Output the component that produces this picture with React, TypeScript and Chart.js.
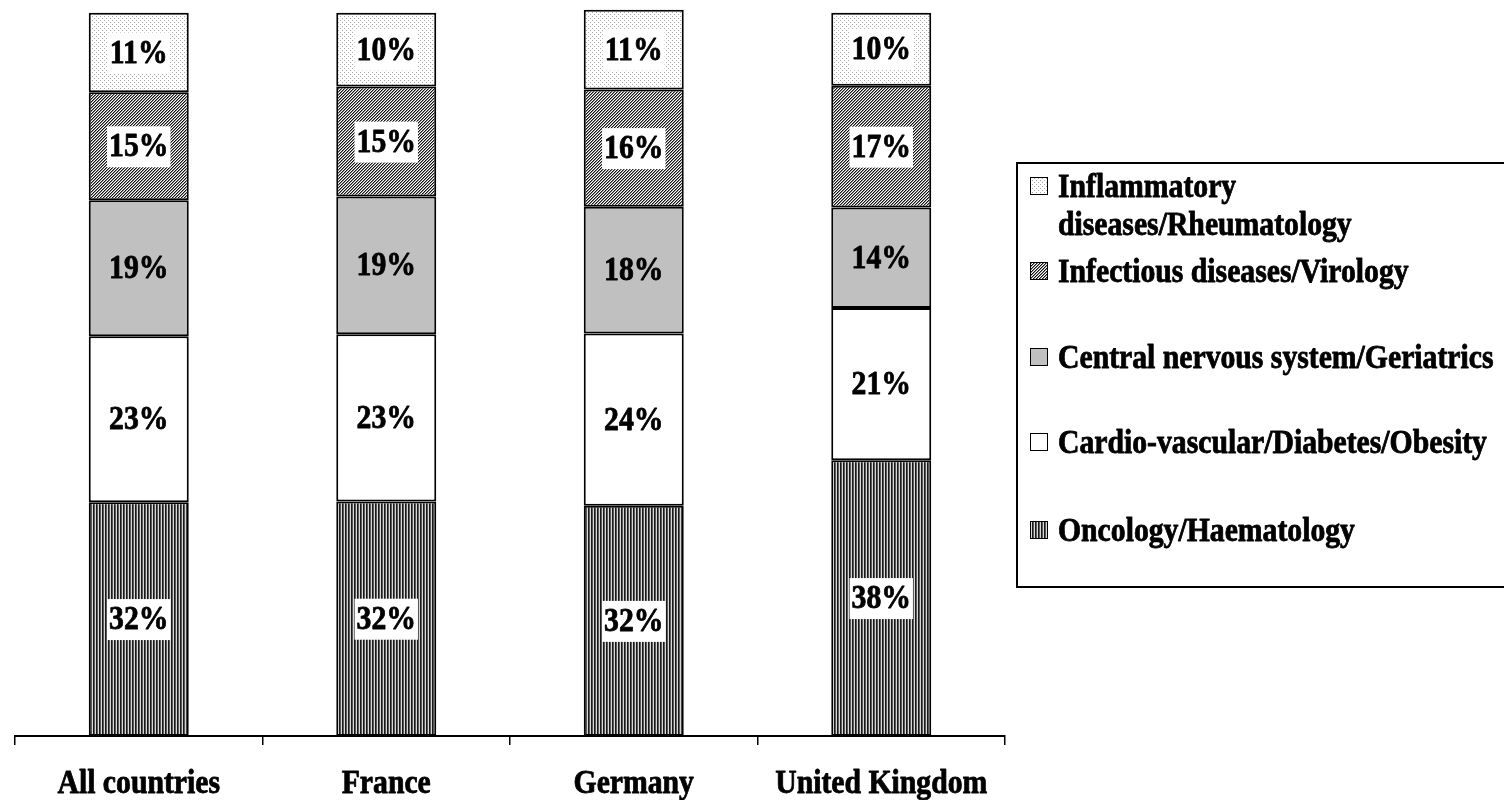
import React, { useEffect, useRef } from "react";
import { Chart, registerables } from "chart.js";

Chart.register(...registerables);

const categories = ["All countries", "France", "Germany", "United Kingdom"];
// segment heights (percent of bar)
const oncology = [32.3, 32.4, 31.8, 38.1];
const cardio = [22.9, 23.1, 23.8, 21.0];
const cns = [18.8, 19.0, 17.5, 13.9];
const infectious = [14.9, 15.2, 16.2, 16.8];
const inflammatory = [11.0, 10.2, 11.0, 10.1];
// printed data labels
const oncologyLabels = ["32%", "32%", "32%", "38%"];
const cardioLabels = ["23%", "23%", "24%", "21%"];
const cnsLabels = ["19%", "19%", "18%", "14%"];
const infectiousLabels = ["15%", "15%", "16%", "17%"];
const inflammatoryLabels = ["11%", "10%", "11%", "10%"];
const seriesNames = [
  "Oncology/Haematology",
  "Cardio-vascular/Diabetes/Obesity",
  "Central nervous system/Geriatrics",
  "Infectious diseases/Virology",
  "Inflammatory diseases/Rheumatology",
];
const legendLines = [
  ["Inflammatory", "diseases/Rheumatology"],
  ["Infectious diseases/Virology"],
  ["Central nervous system/Geriatrics"],
  ["Cardio-vascular/Diabetes/Obesity"],
  ["Oncology/Haematology"],
];

const FONT = '"Liberation Serif", "Times New Roman", serif';
const TEXT_FONT = `bold 33px ${FONT}`;
const SX = 0.9;

function makePattern(kind: string): CanvasPattern {
  const c = document.createElement("canvas");
  const size = kind === "dots" ? 4 : 3;
  c.width = size;
  c.height = size;
  const g = c.getContext("2d")!;
  const set = (x: number, y: number, col: string) => {
    g.fillStyle = col;
    g.fillRect(x, y, 1, 1);
  };
  for (let y = 0; y < size; y++) {
    for (let x = 0; x < size; x++) {
      if (kind === "vert") {
        set(x, y, x === 0 ? "#1a1a1a" : x === 1 ? "#5a5a5a" : "#d8d8d8");
      } else if (kind === "diag") {
        const k = (x + y) % 3;
        set(x, y, k === 0 ? "#111111" : k === 1 ? "#8a8a8a" : "#ffffff");
      } else {
        set(x, y, (x === 0 && y === 0) || (x === 2 && y === 2) ? "#a8a8a8" : "#ffffff");
      }
    }
  }
  return g.createPattern(c, "repeat")!;
}

function drawText(ctx: CanvasRenderingContext2D, txt: string, x: number, y: number, align: CanvasTextAlign) {
  ctx.save();
  ctx.translate(x, y);
  ctx.scale(SX, 1);
  ctx.textAlign = align;
  ctx.textBaseline = "alphabetic";
  ctx.fillStyle = "#000";
  ctx.strokeStyle = "#000";
  ctx.lineWidth = 0.8;
  ctx.lineJoin = "round";
  ctx.fillText(txt, 0, 0);
  ctx.strokeText(txt, 0, 0);
  ctx.restore();
}

export default function App() {
  const ref = useRef<HTMLCanvasElement>(null);

  useEffect(() => {
    const canvas = ref.current!;
    const fills: (CanvasPattern | string)[] = [
      makePattern("vert"),
      "#ffffff",
      "#c0c0c0",
      makePattern("diag"),
      makePattern("dots"),
    ];
    const boxed = [true, false, false, true, true];
    const values = [oncology, cardio, cns, infectious, inflammatory];
    const labels = [oncologyLabels, cardioLabels, cnsLabels, infectiousLabels, inflammatoryLabels];

    const labelPlugin = {
      id: "segLabels",
      afterDatasetsDraw(chart: any) {
        const ctx = chart.ctx as CanvasRenderingContext2D;
        ctx.save();
        ctx.font = TEXT_FONT;
        chart.data.datasets.forEach((_ds: any, di: number) => {
          const meta = chart.getDatasetMeta(di);
          meta.data.forEach((el: any, i: number) => {
            const txt = labels[di][i];
            const cx = el.x;
            const cy = (el.y + el.base) / 2;
            const w = ctx.measureText(txt).width * SX;
            if (boxed[di]) {
              ctx.fillStyle = "#ffffff";
              ctx.fillRect(cx - w / 2 - 2, cy - 20, w + 4, 41);
            }
            drawText(ctx, txt, cx, cy + 10, "center");
          });
        });
        ctx.restore();
      },
    };

    const axisLabelPlugin = {
      id: "axisLabels",
      afterDraw(chart: any) {
        const ctx = chart.ctx as CanvasRenderingContext2D;
        const xs = chart.scales.x;
        ctx.save();
        ctx.font = TEXT_FONT;
        categories.forEach((c, i) => {
          drawText(ctx, c, xs.getPixelForValue(i), xs.bottom - 7, "center");
        });
        ctx.restore();
      },
    };

    const legendPlugin = {
      id: "boxLegend",
      afterDraw(chart: any) {
        const ctx = chart.ctx as CanvasRenderingContext2D;
        ctx.save();
        ctx.lineWidth = 2;
        ctx.strokeStyle = "#000";
        ctx.strokeRect(1017, 163, 520, 424);
        const baselines = [[197, 235], [282], [368], [453], [541]];
        ctx.font = TEXT_FONT;
        legendLines.forEach((lines, li) => {
          const di = 4 - li;
          const b0 = baselines[li][0];
          ctx.fillStyle = fills[di] as any;
          ctx.fillRect(1030, b0 - 20, 18, 18);
          ctx.lineWidth = 1;
          ctx.strokeStyle = "#000";
          ctx.strokeRect(1030.5, b0 - 19.5, 17, 17);
          lines.forEach((ln, k) => {
            drawText(ctx, ln, 1058, baselines[li][k], "left");
          });
        });
        ctx.restore();
      },
    };

    const chart = new Chart(canvas, {
      type: "bar",
      data: {
        labels: categories,
        datasets: values.map((v, di) => ({
          label: seriesNames[di],
          data: v,
          backgroundColor: fills[di] as any,
          borderColor: "#000000",
          borderWidth: 2,
          borderSkipped: false,
          categoryPercentage: 1,
          barPercentage: 0.404,
          clip: false as any,
        })),
      },
      options: {
        responsive: false,
        animation: false,
        devicePixelRatio: 1,
        layout: { padding: { left: 15, right: 499, top: 12, bottom: 0 } },
        plugins: {
          legend: { display: false },
          tooltip: { enabled: false },
        },
        scales: {
          x: {
            stacked: true,
            offset: true,
            afterFit: (s: any) => {
              s.height = 64;
            },
            grid: {
              display: true,
              offset: true,
              drawOnChartArea: false,
              drawTicks: true,
              tickLength: 9,
              color: "#000",
              lineWidth: 1.5,
            },
            border: { display: true, color: "#000", width: 2 },
            ticks: { display: false },
          },
          y: {
            stacked: true,
            display: false,
            min: 0,
            max: 100,
          },
        },
      },
      plugins: [labelPlugin, axisLabelPlugin, legendPlugin],
    });
    return () => chart.destroy();
  }, []);

  return (
    <div style={{ position: "absolute", left: 0, top: 0, width: 1504, height: 800, background: "#fff" }}>
      <canvas ref={ref} width={1504} height={800} style={{ display: "block" }} />
    </div>
  );
}
